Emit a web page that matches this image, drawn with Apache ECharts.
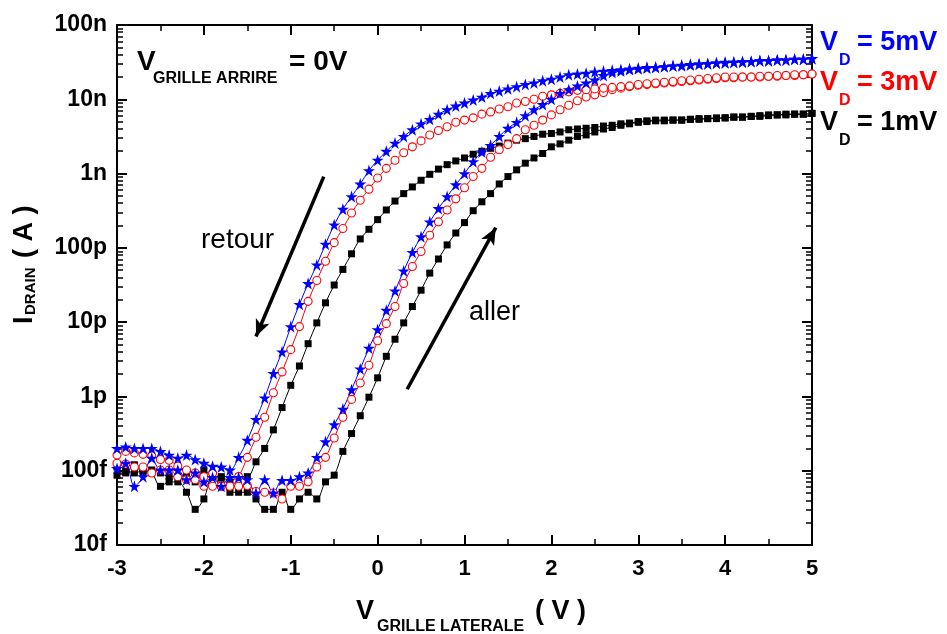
<!DOCTYPE html>
<html>
<head>
<meta charset="utf-8">
<script src="https://cdn.jsdelivr.net/npm/echarts@6/dist/echarts.min.js"></script>
<style>
html,body{margin:0;padding:0;background:#fff;}
#chart{width:947px;height:634px;}
</style>
</head>
<body>
<div id="chart"></div>
<script>
// Gate voltage (V), sweep step 0.1 V
const V = [-3.0,-2.9,-2.8,-2.7,-2.6,-2.5,-2.4,-2.3,-2.2,-2.1,
  -2.0,-1.9,-1.8,-1.7,-1.6,-1.5,-1.4,-1.3,-1.2,-1.1,
  -1.0,-0.9,-0.8,-0.7,-0.6,-0.5,-0.4,-0.3,-0.2,-0.1,
  0.0,0.1,0.2,0.3,0.4,0.5,0.6,0.7,0.8,0.9,
  1.0,1.1,1.2,1.3,1.4,1.5,1.6,1.7,1.8,1.9,
  2.0,2.1,2.2,2.3,2.4,2.5,2.6,2.7,2.8,2.9,
  3.0,3.1,3.2,3.3,3.4,3.5,3.6,3.7,3.8,3.9,
  4.0,4.1,4.2,4.3,4.4,4.5,4.6,4.7,4.8,4.9,
  5.0];

// log10 of drain current (A)
const logI_5mV_retour = [-12.70,-12.68,-12.70,-12.70,-12.70,-12.74,-12.79,-12.83,-12.79,-12.85,
  -12.90,-12.94,-12.95,-12.99,-12.82,-12.59,-12.31,-12.02,-11.69,-11.40,
  -11.06,-10.76,-10.48,-10.23,-9.95,-9.69,-9.48,-9.31,-9.14,-8.96,
  -8.82,-8.70,-8.59,-8.50,-8.41,-8.33,-8.27,-8.20,-8.14,-8.09,
  -8.05,-8.01,-7.97,-7.92,-7.89,-7.86,-7.83,-7.80,-7.78,-7.75,
  -7.73,-7.70,-7.67,-7.66,-7.65,-7.63,-7.62,-7.61,-7.60,-7.59,
  -7.58,-7.57,-7.57,-7.56,-7.55,-7.54,-7.53,-7.52,-7.52,-7.51,
  -7.50,-7.50,-7.49,-7.49,-7.48,-7.48,-7.47,-7.47,-7.46,-7.46,
  -7.45];
const logI_5mV_aller = [-12.97,-12.90,-13.21,-13.08,-12.83,-12.99,-12.99,-12.99,-13.12,-13.03,
  -13.15,-13.09,-13.21,-13.09,-13.09,-13.12,-13.30,-13.12,-13.30,-13.13,
  -13.13,-13.08,-13.03,-12.82,-12.61,-12.38,-12.17,-11.91,-11.63,-11.35,
  -11.10,-10.84,-10.58,-10.31,-10.06,-9.85,-9.65,-9.47,-9.31,-9.15,
  -9.00,-8.84,-8.71,-8.62,-8.50,-8.39,-8.31,-8.22,-8.14,-8.07,
  -8.00,-7.92,-7.87,-7.82,-7.78,-7.74,-7.68,-7.64,-7.62,-7.60,
  -7.59,-7.58,-7.57,-7.56,-7.55,-7.55,-7.54,-7.53,-7.52,-7.51,
  -7.51,-7.50,-7.50,-7.49,-7.48,-7.48,-7.47,-7.47,-7.46,-7.46,
  -7.45];
const logI_3mV_retour = [-12.79,-12.74,-12.76,-12.78,-12.80,-12.85,-12.86,-12.94,-12.99,-13.03,
  -13.08,-13.03,-13.21,-13.21,-13.08,-12.82,-12.55,-12.28,-11.95,-11.67,
  -11.37,-11.06,-10.72,-10.44,-10.18,-9.93,-9.74,-9.53,-9.36,-9.21,
  -9.06,-8.93,-8.82,-8.72,-8.64,-8.56,-8.48,-8.42,-8.37,-8.31,
  -8.28,-8.25,-8.20,-8.17,-8.13,-8.10,-8.05,-8.03,-8.00,-7.96,
  -7.94,-7.92,-7.90,-7.88,-7.87,-7.86,-7.85,-7.84,-7.83,-7.82,
  -7.80,-7.79,-7.78,-7.77,-7.76,-7.75,-7.74,-7.73,-7.72,-7.71,
  -7.70,-7.70,-7.70,-7.70,-7.69,-7.69,-7.68,-7.68,-7.67,-7.67,
  -7.66];
const logI_3mV_aller = [-12.90,-12.91,-12.95,-12.95,-13.03,-12.99,-12.99,-13.08,-13.12,-13.12,
  -13.21,-13.21,-13.21,-13.21,-13.21,-13.20,-13.28,-13.29,-13.30,-13.38,
  -13.21,-13.21,-13.15,-12.95,-12.82,-12.56,-12.28,-12.04,-11.82,-11.58,
  -11.25,-11.02,-10.79,-10.48,-10.25,-10.05,-9.83,-9.65,-9.49,-9.34,
  -9.19,-9.04,-8.93,-8.78,-8.68,-8.61,-8.53,-8.41,-8.35,-8.28,
  -8.21,-8.14,-8.08,-8.02,-7.97,-7.94,-7.91,-7.87,-7.85,-7.83,
  -7.81,-7.80,-7.79,-7.78,-7.77,-7.76,-7.75,-7.74,-7.73,-7.72,
  -7.71,-7.71,-7.70,-7.70,-7.70,-7.69,-7.69,-7.68,-7.68,-7.67,
  -7.66];
const logI_1mV_retour = [-12.95,-13.03,-12.92,-13.03,-12.99,-13.03,-13.08,-13.08,-13.08,-13.15,
  -12.99,-13.08,-13.08,-13.15,-13.08,-13.08,-12.88,-12.70,-12.45,-12.15,
  -11.85,-11.59,-11.29,-11.01,-10.74,-10.50,-10.29,-10.08,-9.88,-9.75,
  -9.62,-9.49,-9.37,-9.27,-9.18,-9.09,-9.01,-8.94,-8.88,-8.83,
  -8.79,-8.74,-8.70,-8.66,-8.63,-8.59,-8.55,-8.53,-8.50,-8.47,
  -8.46,-8.44,-8.41,-8.40,-8.39,-8.38,-8.36,-8.35,-8.33,-8.32,
  -8.30,-8.29,-8.28,-8.28,-8.28,-8.28,-8.27,-8.26,-8.26,-8.26,
  -8.25,-8.24,-8.24,-8.23,-8.22,-8.21,-8.21,-8.20,-8.20,-8.20,
  -8.19];
const logI_1mV_aller = [-13.06,-13.00,-13.03,-13.00,-13.03,-13.21,-13.15,-13.15,-13.29,-13.52,
  -13.38,-13.08,-13.10,-13.29,-13.29,-13.29,-13.38,-13.52,-13.52,-13.29,
  -13.52,-13.38,-13.29,-13.38,-13.15,-13.06,-12.74,-12.50,-12.26,-12.01,
  -11.75,-11.46,-11.23,-11.01,-10.79,-10.57,-10.34,-10.15,-9.96,-9.80,
  -9.66,-9.50,-9.38,-9.27,-9.14,-9.04,-8.95,-8.86,-8.79,-8.73,
  -8.64,-8.60,-8.55,-8.50,-8.48,-8.44,-8.40,-8.38,-8.35,-8.33,
  -8.31,-8.30,-8.29,-8.29,-8.28,-8.28,-8.27,-8.27,-8.26,-8.25,
  -8.25,-8.24,-8.24,-8.23,-8.23,-8.22,-8.21,-8.21,-8.20,-8.20,
  -8.19];

// y tick labels, from 1e-14 A up to 1e-7 A
const yTickLabels = ['10f','100f','1p','10p','100p','1n','10n','100n'];
const yMinExp = -14, yMaxExp = -7;

// sweep-direction arrows [V, I(A)] : start -> end
const arrowRetour = [[-0.62, 9.1e-10], [-1.40, 6.4e-12]];
const arrowAller  = [[0.34, 1.25e-12], [1.36, 1.87e-10]];

const FONT = '"Liberation Sans", Arial, Helvetica, sans-serif';
const STAR = 'path://M100,0L122.45,69.1L195.1,69.1L136.3,111.8L158.8,180.9L100,138.2L41.2,180.9L63.7,111.8L4.9,69.1L77.55,69.1Z';

function pts(arr){ return V.map((v,i)=>[v, Math.pow(10, arr[i])]); }

function seriesOf(name, arr, kind){
  const s = {name, type:'line', data: pts(arr), smooth:0.35, showAllSymbol:true, animation:false,
    xAxisIndex:0, yAxisIndex:0, silent:true};
  if (kind==='black'){
    Object.assign(s,{symbol:'rect', symbolSize:7, itemStyle:{color:'#000'}, lineStyle:{color:'#000', width:1}});
  } else if (kind==='red'){
    Object.assign(s,{symbol:'circle', symbolSize:8, itemStyle:{color:'#fff', borderColor:'#ff0000', borderWidth:1.1}, lineStyle:{color:'#ff0000', width:1}});
  } else {
    Object.assign(s,{symbol:STAR, symbolSize:12, itemStyle:{color:'#0000ff'}, lineStyle:{color:'#0000ff', width:1}});
  }
  return s;
}

const series = [
  seriesOf('1mV aller', logI_1mV_aller, 'black'),
  seriesOf('1mV retour', logI_1mV_retour, 'black'),
  seriesOf('3mV aller', logI_3mV_aller, 'red'),
  seriesOf('3mV retour', logI_3mV_retour, 'red'),
  seriesOf('5mV aller', logI_5mV_aller, 'blue'),
  seriesOf('5mV retour', logI_5mV_retour, 'blue')
];
series[0].markLine = {
  silent:true, animation:false, symbol:['none','arrow'], symbolSize:[11,17],
  label:{show:false}, lineStyle:{color:'#000', width:3.5, type:'solid'},
  emphasis:{disabled:true},
  data:[
    [{coord:arrowRetour[0]},{coord:arrowRetour[1]}],
    [{coord:arrowAller[0]},{coord:arrowAller[1]}]
  ]
};

const majorX = {
  type:'value', min:-3, max:5, interval:1,
  axisLine:{show:true, onZero:false, lineStyle:{color:'#000', width:2}},
  axisTick:{show:true, inside:true, length:10, lineStyle:{color:'#000', width:2}},
  minorTick:{show:true, splitNumber:2, length:6, lineStyle:{color:'#000', width:1.5}},
  splitLine:{show:false}, minorSplitLine:{show:false}
};

function logY(pos, labels){
  return {type:'log', logBase:10, min:Math.pow(10,yMinExp), max:Math.pow(10,yMaxExp), position:pos, splitNumber:7,
    axisLine:{show:true, onZero:false, lineStyle:{color:'#000', width:2}},
    axisTick:{show:true, inside:true, length:10, lineStyle:{color:'#000', width:2}},
    minorTick:{show:true, splitNumber:9, length:6, lineStyle:{color:'#000', width:1.5}},
    axisLabel:{show:labels, color:'#000', fontSize:23, fontWeight:'bold', fontFamily:FONT, margin:10,
      formatter:(v)=>{ const e=Math.round(Math.log10(v)); return yTickLabels[e-yMinExp] || ''; }},
    splitLine:{show:false}, minorSplitLine:{show:false}};
}

function txt(x, y, text, font, color, rot){
  return {type:'text', x, y, rotation: rot||0, silent:true,
    style:{text, font, fill:color, align:'left', verticalAlign:'middle', textAlign:'left', textVerticalAlign:'middle'}};
}
const B27 = 'bold 27px ' + FONT, B16 = 'bold 16px ' + FONT;

const texts = [
  // top-left condition
  txt(137, 62, 'V', 'bold 28px ' + FONT, '#000'),
  txt(153, 79, 'GRILLE ARRIRE', B16, '#000'),
  txt(289, 62, '= 0V', 'bold 28px ' + FONT, '#000'),
  // series labels (right)
  txt(820, 43, 'V', B27, '#0000ff'),
  txt(839, 61, 'D', B16, '#0000ff'),
  txt(857, 43, '= 5mV', B27, '#0000ff'),
  txt(820, 83, 'V', B27, '#ff0000'),
  txt(839, 101, 'D', B16, '#ff0000'),
  txt(857, 83, '= 3mV', B27, '#ff0000'),
  txt(820, 123, 'V', B27, '#000'),
  txt(839, 141, 'D', B16, '#000'),
  txt(857, 123, '= 1mV', B27, '#000'),
  // sweep labels
  txt(201, 240, 'retour', 'normal 28px ' + FONT, '#000'),
  txt(469, 313, 'aller', 'normal 27px ' + FONT, '#000'),
  // x axis title
  txt(356, 612, 'V', B27, '#000'),
  txt(377, 627, 'GRILLE LATERALE', B16, '#000'),
  txt(535, 612, '( V )', B27, '#000'),
  // y axis title (rotated)
  txt(25, 324, 'I', B27, '#000', Math.PI/2),
  txt(31, 315, 'DRAIN', 'bold 15px ' + FONT, '#000', Math.PI/2),
  txt(25, 258, '( A )', B27, '#000', Math.PI/2)
];

const option = {
  backgroundColor:'#fff',
  animation:false,
  grid:{left:117, right:135, top:25, bottom:89, containLabel:false},
  xAxis:[
    Object.assign({}, majorX, {position:'bottom',
      axisLabel:{show:true, color:'#000', fontSize:22, fontWeight:'bold', fontFamily:FONT, margin:13}}),
    Object.assign({}, majorX, {position:'top', axisLabel:{show:false}})
  ],
  yAxis:[ logY('left', true), logY('right', false) ],
  series,
  graphic:{elements:texts}
};

const chart = echarts.init(document.getElementById('chart'), null, {renderer:'canvas'});
chart.setOption(option);
</script>
</body>
</html>
